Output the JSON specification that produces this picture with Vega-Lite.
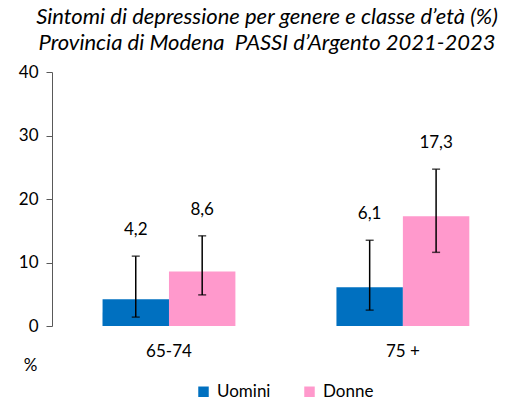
{
  "$schema": "https://vega.github.io/schema/vega-lite/v6.json",
  "autosize": {"type": "none"},
  "width": 458,
  "height": 254,
  "padding": {"left": 52, "top": 72, "right": 0, "bottom": 77},
  "background": "white",
  "config": {
    "view": {"stroke": null},
    "font": "Lato",
    "locale": {"number": {"decimal": ",", "thousands": ".", "grouping": [3], "currency": ["€", ""]}}
  },
  "title": {
    "text": ["Sintomi di depressione per genere e classe d’età (%)", "Provincia di Modena\u00a0 PASSI d’Argento 2021-2023"],
    "font": "Lato",
    "fontStyle": "italic",
    "fontWeight": "normal",
    "fontSize": 22,
    "lineHeight": 26,
    "color": "#000000",
    "anchor": "middle",
    "frame": "group",
    "dx": -14,
    "offset": 8
  },
  "data": {
    "values": [
      {"classe": "65-74", "genere": "Uomini", "valore": 4.2, "lo": 1.4, "hi": 11.0},
      {"classe": "65-74", "genere": "Donne", "valore": 8.6, "lo": 4.9, "hi": 14.2},
      {"classe": "75 +", "genere": "Uomini", "valore": 6.1, "lo": 2.5, "hi": 13.5},
      {"classe": "75 +", "genere": "Donne", "valore": 17.3, "lo": 11.6, "hi": 24.7}
    ]
  },
  "encoding": {
    "x": {
      "field": "classe", "type": "nominal", "sort": ["65-74", "75 +"],
      "scale": {"paddingInner": 0.432, "paddingOuter": 0.195, "align": 0.554},
      "axis": {"title": null, "domain": false, "ticks": false, "labelAngle": 0, "labelFontSize": 17, "labelColor": "#000000", "labelPadding": 17, "labelFont": "Lato"}
    },
    "xOffset": {"field": "genere", "type": "nominal", "sort": ["Uomini", "Donne"], "scale": {"paddingInner": 0, "paddingOuter": 0}}
  },
  "layer": [
    {
      "mark": {"type": "bar"},
      "encoding": {
        "y": {
          "field": "valore", "type": "quantitative",
          "scale": {"domain": [0, 40], "nice": false},
          "axis": {
            "values": [0, 10, 20, 30, 40], "grid": false, "domainColor": "#595959", "tickColor": "#595959",
            "tickSize": 6, "labelFontSize": 17, "labelColor": "#000000", "labelPadding": 8, "labelFont": "Lato",
            "title": "%", "titleAngle": 0, "titleX": -22, "titleY": 293, "titleAlign": "center", "titleBaseline": "middle",
            "titleFontSize": 17, "titleFontWeight": "normal", "titleColor": "#000000", "titleFont": "Lato"
          }
        },
        "color": {
          "field": "genere", "type": "nominal", "sort": ["Uomini", "Donne"],
          "scale": {"domain": ["Uomini", "Donne"], "range": ["#0070C0", "#FF99CC"]},
          "legend": {
            "title": null, "orient": "none", "legendX": 143, "legendY": 311, "direction": "horizontal",
            "symbolType": "square", "symbolSize": 110, "symbolStrokeWidth": 0, "labelFontSize": 17, "labelColor": "#000000",
            "labelFont": "Lato", "columnPadding": 30, "labelOffset": 5
          }
        }
      }
    },
    {
      "mark": {"type": "rule", "color": "#000000", "strokeWidth": 1.5},
      "encoding": {"y": {"field": "lo", "type": "quantitative"}, "y2": {"field": "hi"}}
    },
    {
      "mark": {"type": "tick", "color": "#000000", "thickness": 1.5, "size": 8, "orient": "horizontal"},
      "encoding": {"y": {"field": "lo", "type": "quantitative"}}
    },
    {
      "mark": {"type": "tick", "color": "#000000", "thickness": 1.5, "size": 8, "orient": "horizontal"},
      "encoding": {"y": {"field": "hi", "type": "quantitative"}}
    },
    {
      "mark": {"type": "text", "fontSize": 17, "dy": -26, "color": "#000000", "font": "Lato"},
      "encoding": {
        "y": {"field": "hi", "type": "quantitative"},
        "text": {"field": "valore", "type": "quantitative", "format": ".1f"}
      }
    }
  ]
}
